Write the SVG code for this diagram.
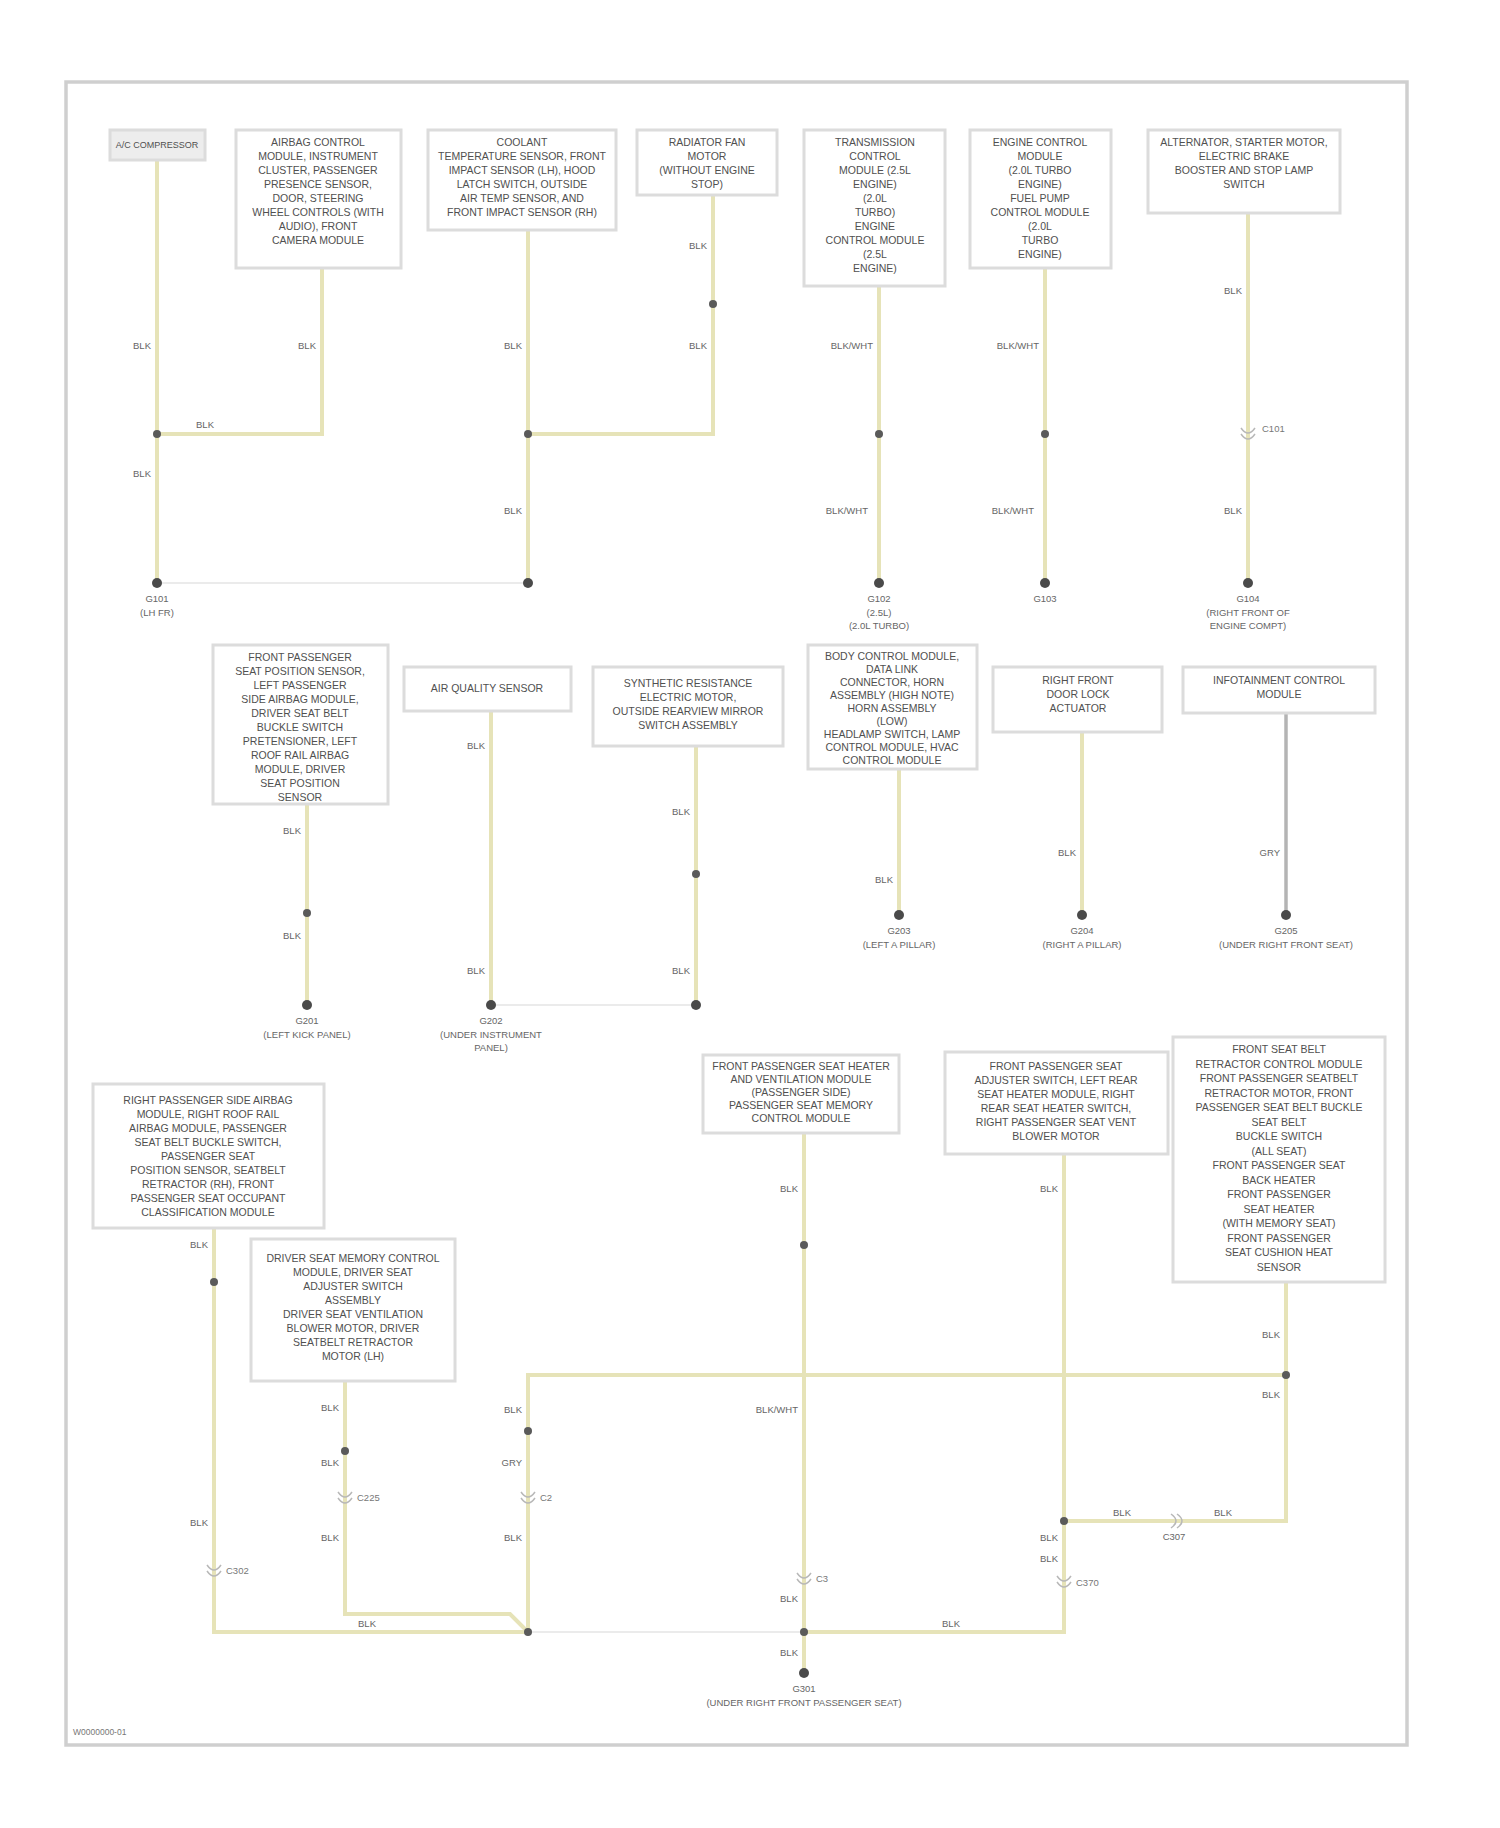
<svg xmlns="http://www.w3.org/2000/svg" width="1500" height="1828" viewBox="0 0 1500 1828">
<style>
.frame{fill:#fff;stroke:#cfcfcf;stroke-width:3.5}
.box{fill:#fff;stroke:#dcdcdc;stroke-width:3}
.boxg{fill:#ededed;stroke:#dcdcdc;stroke-width:3}
.w{fill:none;stroke:#e6e3b8;stroke-width:4;stroke-linejoin:miter}
.wg{fill:none;stroke:#b4b4b4;stroke-width:3.5}
.thin{fill:none;stroke:#e4e4e4;stroke-width:1.5}
.dot{fill:#5a5a5a}
.gnd{fill:#4a4a4a}
.con{fill:none;stroke:#b8b8b8;stroke-width:1.5}
.bt{font-family:"Liberation Sans",Arial,sans-serif;font-size:10.5px;fill:#505050;text-anchor:middle}
.wl{font-family:"Liberation Sans",Arial,sans-serif;font-size:9.5px;fill:#666;text-anchor:end}
.wc{font-family:"Liberation Sans",Arial,sans-serif;font-size:9.5px;fill:#666;text-anchor:middle}
.cl{font-family:"Liberation Sans",Arial,sans-serif;font-size:9.5px;fill:#777;text-anchor:start}
.gl{font-family:"Liberation Sans",Arial,sans-serif;font-size:9.5px;fill:#666;text-anchor:middle}
</style>
<defs>
<g id="conn"><path class="con" d="M-7,-6 Q0,4 7,-6"/><path class="con" d="M-7,0 Q0,10 7,0"/></g>
<g id="connh"><path class="con" d="M-6,-7 Q4,0 -6,7"/><path class="con" d="M0,-7 Q10,0 0,7"/></g>
</defs>
<rect class="frame" x="66" y="82" width="1341" height="1663"/>
<text class="cl" x="73" y="1735" style="font-size:8.5px">W0000000-01</text>

<g id="connectors">
<path class="w" d="M157,160 V583"/>
<path class="w" d="M157,434 H322 V268"/>
<path class="w" d="M528,230 V583"/>
<path class="w" d="M528,434 H713 V195"/>
<path class="w" d="M879,286 V583"/>
<path class="w" d="M1045,268 V583"/>
<path class="w" d="M1248,213 V583"/>
<path class="thin" d="M157,583 H528"/>
<path class="w" d="M307,804 V1005"/>
<path class="w" d="M491,711 V1005"/>
<path class="w" d="M696,746 V1005"/>
<path class="thin" d="M491,1005 H696"/>
<path class="w" d="M899,769 V915"/>
<path class="w" d="M1082,732 V915"/>
<path class="wg" d="M1286,713 V915"/>
<path class="w" d="M214,1228 V1632 H528"/>
<path class="w" d="M345,1381 V1614 H510 L528,1632"/>
<path class="w" d="M528,1632 V1375 H1286"/>
<path class="thin" d="M528,1632 H804"/>
<path class="w" d="M804,1133 V1673"/>
<path class="w" d="M804,1632 H1064 V1154"/>
<path class="w" d="M1286,1282 V1521 H1064"/>

<circle class="dot" cx="157" cy="434" r="4"/>
<circle class="dot" cx="528" cy="434" r="4"/>
<circle class="dot" cx="713" cy="304" r="4"/>
<circle class="dot" cx="879" cy="434" r="4"/>
<circle class="dot" cx="1045" cy="434" r="4"/>
<circle class="dot" cx="307" cy="913" r="4"/>
<circle class="dot" cx="696" cy="874" r="4"/>
<circle class="dot" cx="214" cy="1282" r="4"/>
<circle class="dot" cx="345" cy="1451" r="4"/>
<circle class="dot" cx="528" cy="1431" r="4"/>
<circle class="dot" cx="528" cy="1632" r="4"/>
<circle class="dot" cx="804" cy="1245" r="4"/>
<circle class="dot" cx="804" cy="1632" r="4"/>
<circle class="dot" cx="1064" cy="1521" r="4"/>
<circle class="dot" cx="1286" cy="1375" r="4"/>

<use href="#conn" x="1248" y="434"/><text class="cl" x="1262" y="432">C101</text>
<use href="#conn" x="214" y="1571"/><text class="cl" x="226" y="1574">C302</text>
<use href="#conn" x="345" y="1498"/><text class="cl" x="357" y="1501">C225</text>
<use href="#conn" x="528" y="1498"/><text class="cl" x="540" y="1501">C2</text>
<use href="#conn" x="804" y="1579"/><text class="cl" x="816" y="1582">C3</text>
<use href="#conn" x="1064" y="1582"/><text class="cl" x="1076" y="1586">C370</text>
<use href="#connh" x="1177" y="1521"/><text class="wc" x="1174" y="1540">C307</text>

<text class="wl" x="151" y="349">BLK</text>
<text class="wl" x="151" y="477">BLK</text>
<text class="wc" x="205" y="428">BLK</text>
<text class="wl" x="316" y="349">BLK</text>
<text class="wl" x="522" y="349">BLK</text>
<text class="wl" x="522" y="514">BLK</text>
<text class="wl" x="707" y="249">BLK</text>
<text class="wl" x="707" y="349">BLK</text>
<text class="wl" x="873" y="349">BLK/WHT</text>
<text class="wl" x="868" y="514">BLK/WHT</text>
<text class="wl" x="1039" y="349">BLK/WHT</text>
<text class="wl" x="1034" y="514">BLK/WHT</text>
<text class="wl" x="1242" y="294">BLK</text>
<text class="wl" x="1242" y="514">BLK</text>
<text class="wl" x="301" y="834">BLK</text>
<text class="wl" x="301" y="939">BLK</text>
<text class="wl" x="485" y="749">BLK</text>
<text class="wl" x="485" y="974">BLK</text>
<text class="wl" x="690" y="815">BLK</text>
<text class="wl" x="690" y="974">BLK</text>
<text class="wl" x="893" y="883">BLK</text>
<text class="wl" x="1076" y="856">BLK</text>
<text class="wl" x="1280" y="856">GRY</text>
<text class="wl" x="208" y="1248">BLK</text>
<text class="wl" x="208" y="1526">BLK</text>
<text class="wl" x="339" y="1411">BLK</text>
<text class="wl" x="339" y="1466">BLK</text>
<text class="wl" x="339" y="1541">BLK</text>
<text class="wc" x="367" y="1627">BLK</text>
<text class="wl" x="522" y="1413">BLK</text>
<text class="wl" x="522" y="1466">GRY</text>
<text class="wl" x="522" y="1541">BLK</text>
<text class="wl" x="798" y="1192">BLK</text>
<text class="wl" x="798" y="1413">BLK/WHT</text>
<text class="wl" x="798" y="1602">BLK</text>
<text class="wl" x="798" y="1656">BLK</text>
<text class="wc" x="951" y="1627">BLK</text>
<text class="wl" x="1058" y="1192">BLK</text>
<text class="wl" x="1058" y="1541">BLK</text>
<text class="wl" x="1058" y="1562">BLK</text>
<text class="wl" x="1280" y="1338">BLK</text>
<text class="wl" x="1280" y="1398">BLK</text>
<text class="wc" x="1122" y="1516">BLK</text>
<text class="wc" x="1223" y="1516">BLK</text>
</g>

<g id="g101"><circle class="gnd" cx="157" cy="583" r="5"/><text class="gl" x="157" y="602">G101</text><text class="gl" x="157" y="616">(LH FR)</text></g>
<g id="g101b"><circle class="gnd" cx="528" cy="583" r="5"/></g>
<g id="g102"><circle class="gnd" cx="879" cy="583" r="5"/><text class="gl" x="879" y="602">G102</text><text class="gl" x="879" y="616">(2.5L)</text><text class="gl" x="879" y="629">(2.0L TURBO)</text></g>
<g id="g103"><circle class="gnd" cx="1045" cy="583" r="5"/><text class="gl" x="1045" y="602">G103</text></g>
<g id="g104"><circle class="gnd" cx="1248" cy="583" r="5"/><text class="gl" x="1248" y="602">G104</text><text class="gl" x="1248" y="616">(RIGHT FRONT OF</text><text class="gl" x="1248" y="629">ENGINE COMPT)</text></g>
<g id="g201"><circle class="gnd" cx="307" cy="1005" r="5"/><text class="gl" x="307" y="1024">G201</text><text class="gl" x="307" y="1038">(LEFT KICK PANEL)</text></g>
<g id="g202"><circle class="gnd" cx="491" cy="1005" r="5"/><text class="gl" x="491" y="1024">G202</text><text class="gl" x="491" y="1038">(UNDER INSTRUMENT</text><text class="gl" x="491" y="1051">PANEL)</text></g>
<g id="g202b"><circle class="gnd" cx="696" cy="1005" r="5"/></g>
<g id="g203"><circle class="gnd" cx="899" cy="915" r="5"/><text class="gl" x="899" y="934">G203</text><text class="gl" x="899" y="948">(LEFT A PILLAR)</text></g>
<g id="g204"><circle class="gnd" cx="1082" cy="915" r="5"/><text class="gl" x="1082" y="934">G204</text><text class="gl" x="1082" y="948">(RIGHT A PILLAR)</text></g>
<g id="g205"><circle class="gnd" cx="1286" cy="915" r="5"/><text class="gl" x="1286" y="934">G205</text><text class="gl" x="1286" y="948">(UNDER RIGHT FRONT SEAT)</text></g>
<g id="g301"><circle class="gnd" cx="804" cy="1673" r="5"/><text class="gl" x="804" y="1692">G301</text><text class="gl" x="804" y="1706">(UNDER RIGHT FRONT PASSENGER SEAT)</text></g>

<g id="n1"><rect class="boxg" x="110" y="130" width="95" height="30"/><text class="bt" x="157" y="148" style="font-size:9px">A/C COMPRESSOR</text></g>
<g id="n2"><rect class="box" x="236" y="130" width="165" height="138"/>
<text class="bt" x="318" y="146"><tspan x="318">AIRBAG CONTROL</tspan><tspan x="318" dy="14">MODULE, INSTRUMENT</tspan><tspan x="318" dy="14">CLUSTER, PASSENGER</tspan><tspan x="318" dy="14">PRESENCE SENSOR,</tspan><tspan x="318" dy="14">DOOR, STEERING</tspan><tspan x="318" dy="14">WHEEL CONTROLS (WITH</tspan><tspan x="318" dy="14">AUDIO), FRONT</tspan><tspan x="318" dy="14">CAMERA MODULE</tspan></text></g>
<g id="n3"><rect class="box" x="428" y="130" width="188" height="100"/>
<text class="bt" x="522" y="146"><tspan x="522">COOLANT</tspan><tspan x="522" dy="14">TEMPERATURE SENSOR, FRONT</tspan><tspan x="522" dy="14">IMPACT SENSOR (LH), HOOD</tspan><tspan x="522" dy="14">LATCH SWITCH, OUTSIDE</tspan><tspan x="522" dy="14">AIR TEMP SENSOR, AND</tspan><tspan x="522" dy="14">FRONT IMPACT SENSOR (RH)</tspan></text></g>
<g id="n4"><rect class="box" x="637" y="130" width="140" height="65"/>
<text class="bt" x="707" y="146"><tspan x="707">RADIATOR FAN</tspan><tspan x="707" dy="14">MOTOR</tspan><tspan x="707" dy="14">(WITHOUT ENGINE</tspan><tspan x="707" dy="14">STOP)</tspan></text></g>
<g id="n5"><rect class="box" x="804" y="130" width="141" height="156"/>
<text class="bt" x="875" y="146"><tspan x="875">TRANSMISSION</tspan><tspan x="875" dy="14">CONTROL</tspan><tspan x="875" dy="14">MODULE (2.5L</tspan><tspan x="875" dy="14">ENGINE)</tspan><tspan x="875" dy="14">(2.0L</tspan><tspan x="875" dy="14">TURBO)</tspan><tspan x="875" dy="14">ENGINE</tspan><tspan x="875" dy="14">CONTROL MODULE</tspan><tspan x="875" dy="14">(2.5L</tspan><tspan x="875" dy="14">ENGINE)</tspan></text></g>
<g id="n6"><rect class="box" x="970" y="130" width="141" height="138"/>
<text class="bt" x="1040" y="146"><tspan x="1040">ENGINE CONTROL</tspan><tspan x="1040" dy="14">MODULE</tspan><tspan x="1040" dy="14">(2.0L TURBO</tspan><tspan x="1040" dy="14">ENGINE)</tspan><tspan x="1040" dy="14">FUEL PUMP</tspan><tspan x="1040" dy="14">CONTROL MODULE</tspan><tspan x="1040" dy="14">(2.0L</tspan><tspan x="1040" dy="14">TURBO</tspan><tspan x="1040" dy="14">ENGINE)</tspan></text></g>
<g id="n7"><rect class="box" x="1148" y="130" width="192" height="83"/>
<text class="bt" x="1244" y="146"><tspan x="1244">ALTERNATOR, STARTER MOTOR,</tspan><tspan x="1244" dy="14">ELECTRIC BRAKE</tspan><tspan x="1244" dy="14">BOOSTER AND STOP LAMP</tspan><tspan x="1244" dy="14">SWITCH</tspan></text></g>

<g id="n8"><rect class="box" x="213" y="645" width="175" height="159"/>
<text class="bt" x="300" y="661"><tspan x="300">FRONT PASSENGER</tspan><tspan x="300" dy="14">SEAT POSITION SENSOR,</tspan><tspan x="300" dy="14">LEFT PASSENGER</tspan><tspan x="300" dy="14">SIDE AIRBAG MODULE,</tspan><tspan x="300" dy="14">DRIVER SEAT BELT</tspan><tspan x="300" dy="14">BUCKLE SWITCH</tspan><tspan x="300" dy="14">PRETENSIONER, LEFT</tspan><tspan x="300" dy="14">ROOF RAIL AIRBAG</tspan><tspan x="300" dy="14">MODULE, DRIVER</tspan><tspan x="300" dy="14">SEAT POSITION</tspan><tspan x="300" dy="14">SENSOR</tspan></text></g>
<g id="n9"><rect class="box" x="404" y="667" width="167" height="44"/><text class="bt" x="487" y="692">AIR QUALITY SENSOR</text></g>
<g id="n10"><rect class="box" x="593" y="667" width="190" height="79"/>
<text class="bt" x="688" y="687"><tspan x="688">SYNTHETIC RESISTANCE</tspan><tspan x="688" dy="14">ELECTRIC MOTOR,</tspan><tspan x="688" dy="14">OUTSIDE REARVIEW MIRROR</tspan><tspan x="688" dy="14">SWITCH ASSEMBLY</tspan></text></g>
<g id="n11"><rect class="box" x="808" y="645" width="169" height="124"/>
<text class="bt" x="892" y="660"><tspan x="892">BODY CONTROL MODULE,</tspan><tspan x="892" dy="13">DATA LINK</tspan><tspan x="892" dy="13">CONNECTOR, HORN</tspan><tspan x="892" dy="13">ASSEMBLY (HIGH NOTE)</tspan><tspan x="892" dy="13">HORN ASSEMBLY</tspan><tspan x="892" dy="13">(LOW)</tspan><tspan x="892" dy="13">HEADLAMP SWITCH, LAMP</tspan><tspan x="892" dy="13">CONTROL MODULE, HVAC</tspan><tspan x="892" dy="13">CONTROL MODULE</tspan></text></g>
<g id="n12"><rect class="box" x="993" y="667" width="169" height="65"/>
<text class="bt" x="1078" y="684"><tspan x="1078">RIGHT FRONT</tspan><tspan x="1078" dy="14">DOOR LOCK</tspan><tspan x="1078" dy="14">ACTUATOR</tspan></text></g>
<g id="n13"><rect class="box" x="1183" y="667" width="192" height="46"/>
<text class="bt" x="1279" y="684"><tspan x="1279">INFOTAINMENT CONTROL</tspan><tspan x="1279" dy="14">MODULE</tspan></text></g>

<g id="n14"><rect class="box" x="93" y="1084" width="231" height="144"/>
<text class="bt" x="208" y="1104"><tspan x="208">RIGHT PASSENGER SIDE AIRBAG</tspan><tspan x="208" dy="14">MODULE, RIGHT ROOF RAIL</tspan><tspan x="208" dy="14">AIRBAG MODULE, PASSENGER</tspan><tspan x="208" dy="14">SEAT BELT BUCKLE SWITCH,</tspan><tspan x="208" dy="14">PASSENGER SEAT</tspan><tspan x="208" dy="14">POSITION SENSOR, SEATBELT</tspan><tspan x="208" dy="14">RETRACTOR (RH), FRONT</tspan><tspan x="208" dy="14">PASSENGER SEAT OCCUPANT</tspan><tspan x="208" dy="14">CLASSIFICATION MODULE</tspan></text></g>
<g id="n15"><rect class="box" x="251" y="1239" width="204" height="142"/>
<text class="bt" x="353" y="1262"><tspan x="353">DRIVER SEAT MEMORY CONTROL</tspan><tspan x="353" dy="14">MODULE, DRIVER SEAT</tspan><tspan x="353" dy="14">ADJUSTER SWITCH</tspan><tspan x="353" dy="14">ASSEMBLY</tspan><tspan x="353" dy="14">DRIVER SEAT VENTILATION</tspan><tspan x="353" dy="14">BLOWER MOTOR, DRIVER</tspan><tspan x="353" dy="14">SEATBELT RETRACTOR</tspan><tspan x="353" dy="14">MOTOR (LH)</tspan></text></g>
<g id="n16"><rect class="box" x="703" y="1055" width="196" height="78"/>
<text class="bt" x="801" y="1070"><tspan x="801">FRONT PASSENGER SEAT HEATER</tspan><tspan x="801" dy="13">AND VENTILATION MODULE</tspan><tspan x="801" dy="13">(PASSENGER SIDE)</tspan><tspan x="801" dy="13">PASSENGER SEAT MEMORY</tspan><tspan x="801" dy="13">CONTROL MODULE</tspan></text></g>
<g id="n17"><rect class="box" x="945" y="1052" width="223" height="102"/>
<text class="bt" x="1056" y="1070"><tspan x="1056">FRONT PASSENGER SEAT</tspan><tspan x="1056" dy="14">ADJUSTER SWITCH, LEFT REAR</tspan><tspan x="1056" dy="14">SEAT HEATER MODULE, RIGHT</tspan><tspan x="1056" dy="14">REAR SEAT HEATER SWITCH,</tspan><tspan x="1056" dy="14">RIGHT PASSENGER SEAT VENT</tspan><tspan x="1056" dy="14">BLOWER MOTOR</tspan></text></g>
<g id="n18"><rect class="box" x="1173" y="1037" width="212" height="245"/>
<text class="bt" x="1279" y="1053"><tspan x="1279">FRONT SEAT BELT</tspan><tspan x="1279" dy="14.5">RETRACTOR CONTROL MODULE</tspan><tspan x="1279" dy="14.5">FRONT PASSENGER SEATBELT</tspan><tspan x="1279" dy="14.5">RETRACTOR MOTOR, FRONT</tspan><tspan x="1279" dy="14.5">PASSENGER SEAT BELT BUCKLE</tspan><tspan x="1279" dy="14.5">SEAT BELT</tspan><tspan x="1279" dy="14.5">BUCKLE SWITCH</tspan><tspan x="1279" dy="14.5">(ALL SEAT)</tspan><tspan x="1279" dy="14.5">FRONT PASSENGER SEAT</tspan><tspan x="1279" dy="14.5">BACK HEATER</tspan><tspan x="1279" dy="14.5">FRONT PASSENGER</tspan><tspan x="1279" dy="14.5">SEAT HEATER</tspan><tspan x="1279" dy="14.5">(WITH MEMORY SEAT)</tspan><tspan x="1279" dy="14.5">FRONT PASSENGER</tspan><tspan x="1279" dy="14.5">SEAT CUSHION HEAT</tspan><tspan x="1279" dy="14.5">SENSOR</tspan></text></g>
</svg>
